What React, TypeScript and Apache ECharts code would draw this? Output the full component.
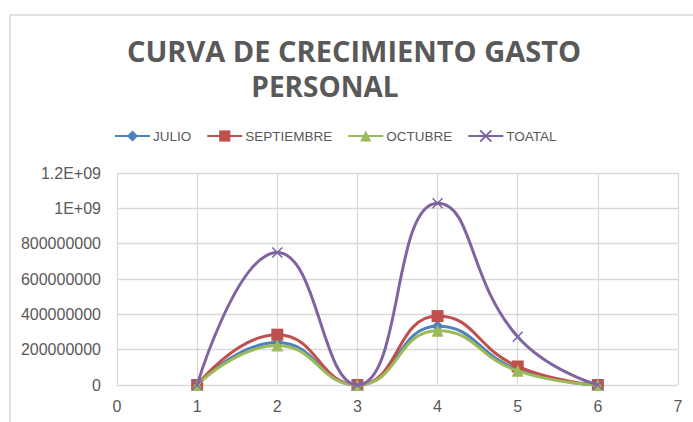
import React, { useEffect, useRef } from "react";
import * as echarts from "echarts";

const xValues = [1, 2, 3, 4, 5, 6];
const julio = [0, 240000000, 0, 332000000, 88000000, 0];
const septiembre = [0, 285000000, 0, 390000000, 105000000, 0];
const octubre = [0, 223000000, 0, 307000000, 80000000, 0];
const toatal = [0, 750000000, 0, 1029000000, 273000000, 0];
const seriesNames = ["JULIO", "SEPTIEMBRE", "OCTUBRE", "TOATAL"];
const yTickLabels = ["0", "200000000", "400000000", "600000000", "800000000", "1E+09", "1.2E+09"];
const titleLines = ["CURVA DE CRECIMIENTO GASTO", "PERSONAL"];

const colors = ["#4F81BD", "#C0504D", "#9BBB59", "#8064A2"];
const textColor = "#595959";
const gridColor = "#D9D9D9";
const axisFont = "'Liberation Sans', Arial, sans-serif";

export default function App() {
  const ref = useRef<HTMLDivElement>(null);
  useEffect(() => {
    if (!ref.current) return;
    const chart = echarts.init(ref.current, undefined, { renderer: "svg" });
    const toPairs = (arr: number[]) => arr.map((v, i) => [xValues[i], v]);
    const datasets = [julio, septiembre, octubre, toatal];
    const symbols = ["diamond", "rect", "triangle", "path://M0,0L10,10M10,0L0,10"];
    const sizes = [12, 12, 12, 10];
    const series = datasets.map((d, i) => ({
      name: seriesNames[i],
      type: "line",
      data: toPairs(d),
      smooth: 0.5,
      symbol: symbols[i],
      symbolSize: sizes[i],
      showAllSymbol: true,
      lineStyle: { color: colors[i], width: 3 },
      itemStyle:
        i === 3
          ? { color: colors[i], borderColor: colors[i], borderWidth: 1.5 }
          : { color: colors[i], borderColor: colors[i], borderWidth: 0 },
      z: 2 + i,
    }));
    chart.setOption({
      animation: false,
      backgroundColor: "#ffffff",
      color: colors,
      graphic: [
        {
          type: "rect",
          shape: { x: 10, y: 15, width: 720, height: 440 },
          style: { fill: "none", stroke: gridColor, lineWidth: 1.5 },
          silent: true,
        },
        {
          type: "text",
          x: 354,
          y: 50,
          style: {
            text: titleLines[0],
            fill: textColor,
            font: "bold 29px 'Open Sans', sans-serif",
            textAlign: "center",
            textVerticalAlign: "middle",
          },
        },
        {
          type: "text",
          x: 325,
          y: 86,
          style: {
            text: titleLines[1],
            fill: textColor,
            font: "bold 28px 'Open Sans', sans-serif",
            textAlign: "center",
            textVerticalAlign: "middle",
          },
        },
      ],
      legend: {
        data: seriesNames,
        left: 109,
        top: 124,
        itemWidth: 35,
        itemHeight: 14,
        itemGap: 15,
        textStyle: { color: textColor, fontSize: 13.5, fontFamily: axisFont, padding: [0, 0, 0, -2] },
      },
      grid: { left: 117, right: 15, top: 173, bottom: 37, containLabel: false },
      xAxis: {
        type: "value",
        min: 0,
        max: 7,
        interval: 1,
        axisLine: { show: false },
        axisTick: { show: false },
        axisLabel: { color: textColor, fontSize: 16, fontFamily: axisFont, margin: 13 },
        splitLine: { show: true, lineStyle: { color: gridColor, width: 1.3 } },
      },
      yAxis: {
        type: "value",
        min: 0,
        max: 1200000000,
        interval: 200000000,
        axisLine: { show: false },
        axisTick: { show: false },
        axisLabel: {
          color: textColor,
          fontSize: 16,
          fontFamily: axisFont,
          margin: 16,
          formatter: (v: number) => yTickLabels[Math.round(v / 200000000)] ?? String(v),
        },
        splitLine: { show: true, lineStyle: { color: gridColor, width: 1.3 } },
      },
      series,
    });
    return () => chart.dispose();
  }, []);
  return (
    <div
      ref={ref}
      style={{ position: "fixed", left: 0, top: 0, width: 693, height: 422, background: "#fff" }}
    />
  );
}
